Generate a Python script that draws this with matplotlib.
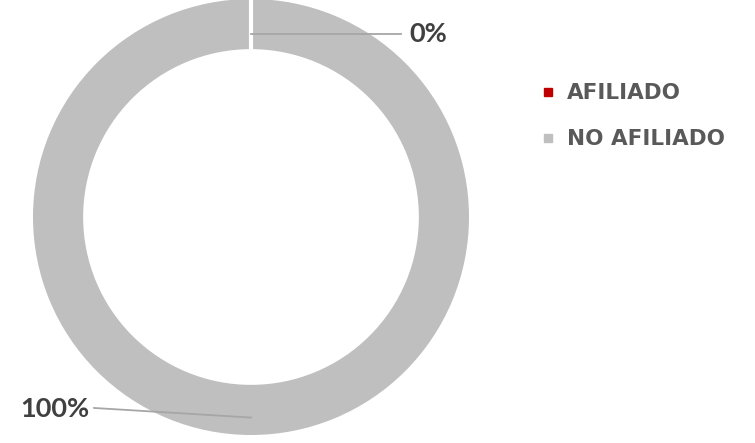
import matplotlib.pyplot as plt
from matplotlib.lines import Line2D

# data
labels = ["AFILIADO", "NO AFILIADO"]
values = [0, 100]
pct_labels = ["0%", "100%"]
colors = ["#C00000", "#BFBFBF"]

W, H = 755, 443
fig = plt.figure(figsize=(W / 100, H / 100), dpi=100)

# place the donut: centre (251, 217) px, outer radius 218 px
cx, cy, r = 251, 217, 218
ring = 0.23
ax = fig.add_axes([(cx - r) / W, (H - cy - r) / H, 2 * r / W, 2 * r / H])
wedges, _ = ax.pie(values, colors=colors, startangle=90, counterclock=False, radius=1,
                   wedgeprops=dict(width=ring, edgecolor="white", linewidth=0))
# slice separator at the start angle (full ring has no radial edge of its own)
ax.plot([0, 0], [1 - ring - 0.01, 1.01], color="white", lw=3, solid_capstyle="butt")
ax.set_xlim(-1, 1)
ax.set_ylim(-1, 1)
ax.set_aspect("equal")
ax.axis("off")

label_font = dict(fontsize=19.5, fontweight="bold", color="#404040", family="Lato")

# leader lines + percentage labels
ax.plot([0, 0.69], [0.84, 0.84], color="#A6A6A6", lw=1.3, clip_on=False)
ax.text(0.725, 0.84, pct_labels[0], ha="left", va="center", **label_font)

ax.plot([0, -0.72], [-0.92, -0.876], color="#A6A6A6", lw=1.3, clip_on=False)
ax.text(-0.74, -0.88, pct_labels[1], ha="right", va="center", **label_font)

handles = [Line2D([], [], marker="s", ls="", color=c, markersize=6) for c in colors]
leg = fig.legend(handles, labels, loc="upper left", bbox_to_anchor=(511 / W, 1 - 64 / H),
                 frameon=False, handletextpad=0.1, handlelength=1.6, labelspacing=1.2,
                 prop=dict(size=15.5, weight="bold", family="DejaVu Sans"))
for t in leg.get_texts():
    t.set_color("#595959")

fig.savefig("out.png", dpi=100)
